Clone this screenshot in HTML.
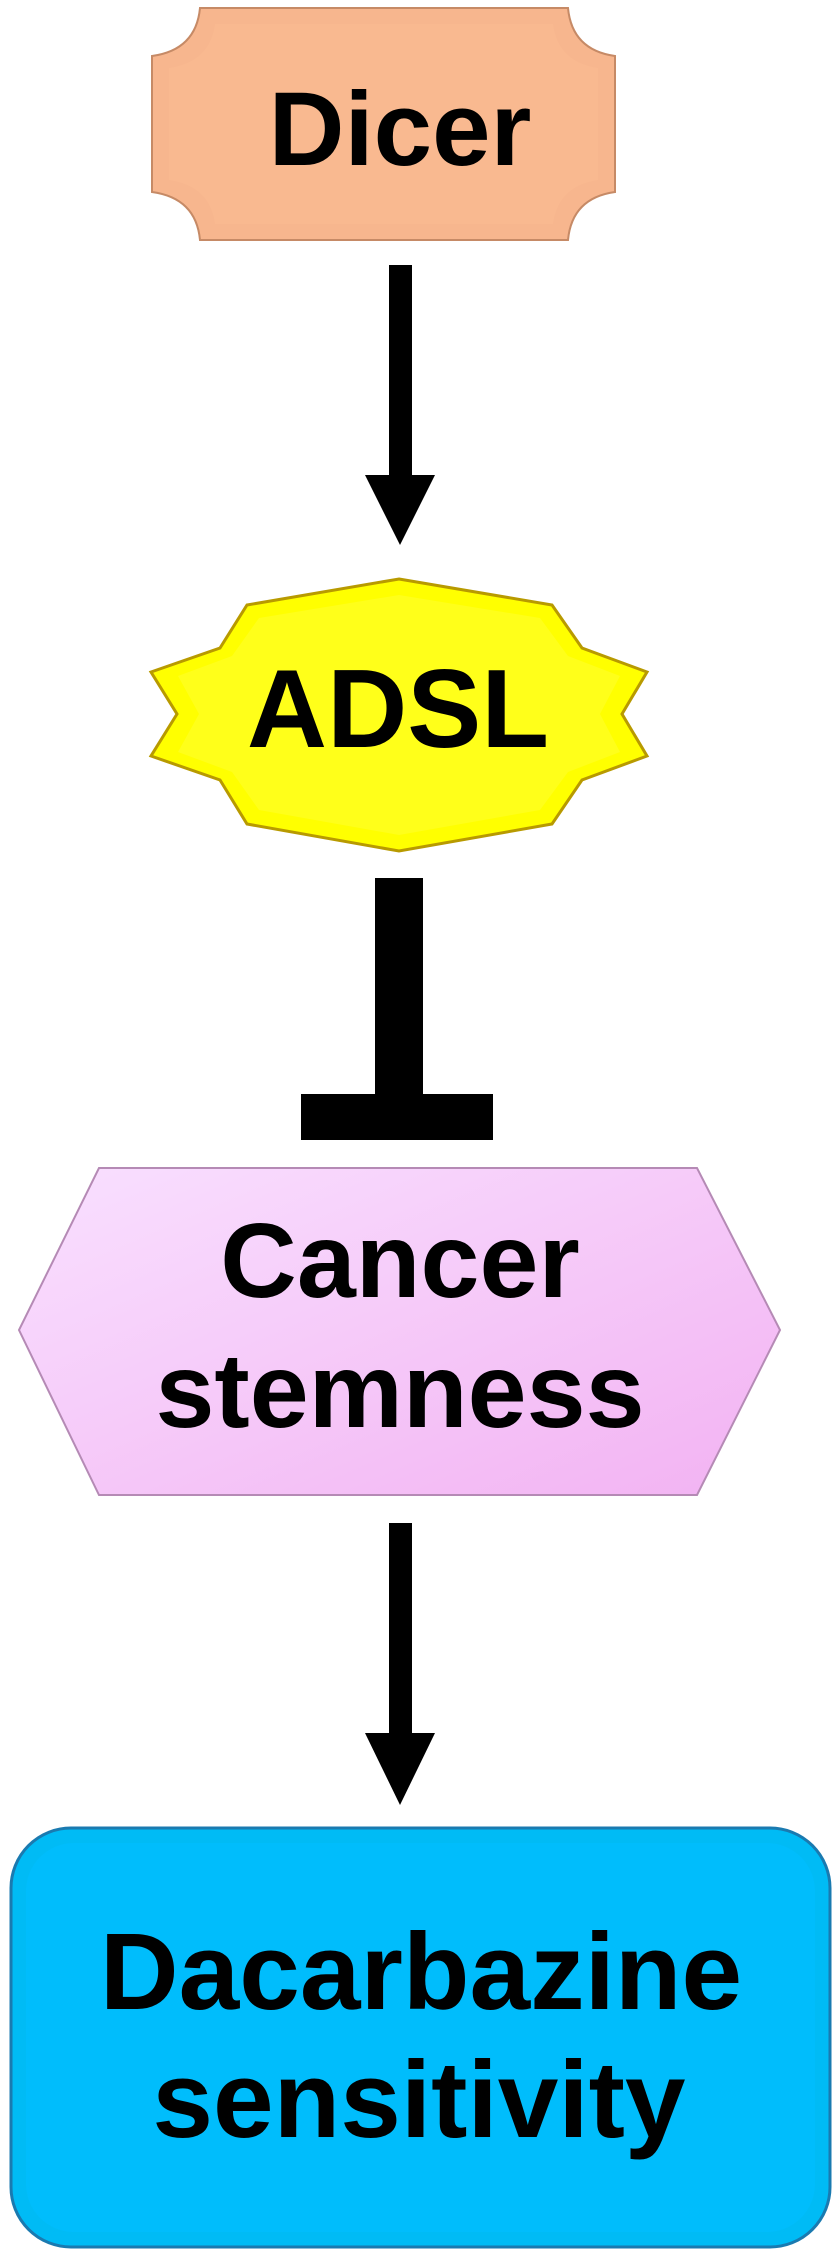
<!DOCTYPE html>
<html><head><meta charset="utf-8"><style>
html,body{margin:0;padding:0;background:#fff;}
svg{display:block;}
text{font-family:"Liberation Sans",Arial,sans-serif;font-weight:bold;fill:#000;}
</style></head><body>
<svg width="838" height="2250" viewBox="0 0 838 2250" xmlns="http://www.w3.org/2000/svg">
<defs>
<linearGradient id="gp" x1="0" y1="0" x2="1" y2="1">
<stop offset="0" stop-color="#f9e0ff"/><stop offset="1" stop-color="#f2b2f2"/>
</linearGradient>
</defs>
<!-- Dicer -->
<path d="M200,8 L568,8 Q572,50 615,56 L615,192 Q572,198 568,240 L200,240 Q196,198 152,192 L152,56 Q196,50 200,8 Z" fill="#f7b68e" stroke="#c68a66" stroke-width="2"/>
<path d="M215,24 L553,24 Q558,62 598,68 L598,180 Q558,186 553,224 L215,224 Q210,186 169,180 L169,68 Q210,62 215,24 Z" fill="#f9b990"/>
<text x="400" y="165" font-size="105" text-anchor="middle">Dicer</text>
<!-- Arrow 1 -->
<rect x="389" y="265" width="23" height="212" fill="#000"/>
<polygon points="365,475 435,475 400,545" fill="#000"/>
<!-- ADSL star -->
<polygon points="399,579 552,605 582,648 647,672 622,714 647,756 582,780 552,824 399,851 247,824 220,780 151,756 177,714 151,672 220,648 247,605" fill="#ffff00" stroke="#b89a00" stroke-width="3"/>
<polygon points="399,595 540,618 568,656 620,676 600,714 620,752 568,772 540,810 399,835 259,810 232,772 178,752 199,714 178,676 232,656 259,618" fill="#ffff1a"/>
<text x="398" y="747" font-size="111" text-anchor="middle">ADSL</text>
<!-- T bar -->
<rect x="375" y="878" width="48" height="218" fill="#000"/>
<rect x="301" y="1094" width="192" height="46" fill="#000"/>
<!-- Hexagon -->
<polygon points="99,1168 697,1168 780,1330 697,1495 99,1495 19,1330" fill="url(#gp)" stroke="#b58ab5" stroke-width="2"/>
<text x="400" y="1297" font-size="106" text-anchor="middle">Cancer</text>
<text x="400" y="1427" font-size="106" text-anchor="middle">stemness</text>
<!-- Arrow 2 -->
<rect x="389" y="1523" width="23" height="212" fill="#000"/>
<polygon points="365,1733 435,1733 400,1805" fill="#000"/>
<!-- Blue box -->
<rect x="11" y="1828" width="819" height="419" rx="60" fill="#00bbf5" stroke="#1a7ab0" stroke-width="3"/>
<rect x="26" y="1843" width="789" height="389" rx="48" fill="#00bdfc"/>
<text x="421" y="2009" font-size="109" text-anchor="middle">Dacarbazine</text>
<text x="419" y="2137" font-size="109" text-anchor="middle">sensitivity</text>
</svg>
</body></html>
